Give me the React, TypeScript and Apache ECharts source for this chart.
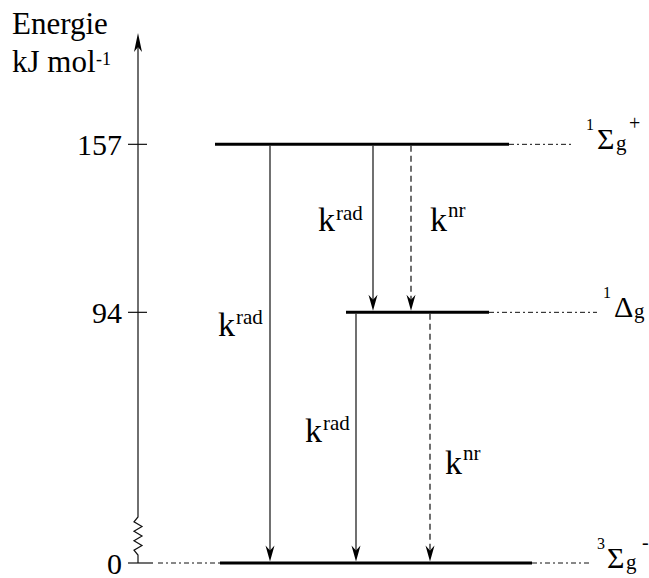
import React, { useEffect, useRef } from 'react';
import * as echarts from 'echarts';

// ---- data ----
const levelEnergies = [0, 94, 157];
const stateMult = ['3', '1', '1'];
const stateLetter = ['Σ', 'Δ', 'Σ'];
const stateSub = ['g', 'g', 'g'];
const stateSup = ['-', '', '+'];
const tickValues = [0, 94, 157];
const transFrom = [157, 157, 157, 94, 94];
const transTo = [0, 94, 94, 0, 0];
const transKind = ['rad', 'rad', 'nr', 'rad', 'nr'];
const axisTitle = ['Energie', 'kJ mol', '-1'];

// ---- layout (pixel units on hidden x axis) ----
const AXIS_X = 138;
const Y_MAX = 195;
const LEVEL_SPAN = [
  [220, 532, 590],
  [346, 489, 597],
  [215, 509, 574],
];
// [mult x, letter x, sub x, sup x]
const LEVEL_LABEL_X = [
  [597, 607, 626, 642],
  [603, 614, 634, 0],
  [586, 597, 616, 629],
];
const TRANS_X = [270, 373, 411, 356, 430];
// [k left x, fraction along arrow]
const TRANS_LABEL: [number, number][] = [
  [218, 0.43],
  [318, 0.45],
  [430, 0.45],
  [305, 0.47],
  [445, 0.6],
];

const FONT = "'Liberation Serif', 'Times New Roman', Times, 'DejaVu Serif', serif";
const INK = '#111';

function txt(x: number, y: number, text: string, fontSize: number, align = 'left') {
  return {
    type: 'text',
    x,
    y,
    style: { text, fontSize, fontFamily: FONT, fill: '#000', align, verticalAlign: 'middle' },
  };
}

function downArrow(x: number, tipY: number) {
  return {
    type: 'polygon',
    shape: { points: [[x, tipY], [x - 4.5, tipY - 16], [x, tipY - 11], [x + 4.5, tipY - 16]] },
    style: { fill: '#000' },
  };
}

const option: any = {
  animation: false,
  backgroundColor: '#fff',
  textStyle: { fontFamily: FONT },
  grid: { left: AXIS_X, right: 0, top: 43, bottom: 7 },
  xAxis: { type: 'value', min: AXIS_X, max: 649, show: false },
  yAxis: {
    type: 'value',
    min: 0,
    max: Y_MAX,
    axisLine: { show: false },
    axisTick: { show: false },
    splitLine: { show: false },
    axisLabel: {
      customValues: tickValues,
      fontSize: 30,
      fontFamily: FONT,
      color: '#000',
      margin: 16,
    },
  },
  graphic: [
    { type: 'text', left: 12, top: 8, style: { text: axisTitle[0], fontSize: 31, fontFamily: FONT, fill: '#000' } },
    { type: 'text', left: 12, top: 46, style: { text: axisTitle[1], fontSize: 31, fontFamily: FONT, fill: '#000' } },
    { type: 'text', left: 96, top: 50, style: { text: axisTitle[2], fontSize: 18, fontFamily: FONT, fill: '#000' } },
  ],
  series: [
    {
      type: 'custom',
      name: 'axis',
      data: [[AXIS_X, 0]],
      renderItem: (_p: any, api: any) => {
        const [x, y0] = api.coord([AXIS_X, 0]);
        const yTop = api.coord([AXIS_X, Y_MAX])[1];
        const pts: number[][] = [[x, y0], [x, y0 - 8]];
        for (let k = 1; k < 8; k++) pts.push([x + (k % 2 ? -4 : 4), y0 - 8 - k * 4.75]);
        pts.push([x, y0 - 46]);
        pts.push([x, yTop + 2]);
        const children: any[] = [
          { type: 'polyline', shape: { points: pts }, style: { stroke: INK, lineWidth: 1.2, fill: null } },
          {
            type: 'polygon',
            shape: { points: [[x, yTop - 10], [x - 4, yTop + 9], [x, yTop + 4], [x + 4, yTop + 9]] },
            style: { fill: '#000' },
          },
        ];
        tickValues.forEach((v) => {
          const ty = api.coord([AXIS_X, v])[1];
          children.push({ type: 'line', shape: { x1: x - 10, y1: ty, x2: x + 9, y2: ty }, style: { stroke: INK, lineWidth: 1.2 } });
        });
        return { type: 'group', children };
      },
    },
    {
      type: 'custom',
      name: 'levels',
      data: levelEnergies.map((e, i) => [LEVEL_SPAN[i][0], e, i]),
      renderItem: (p: any, api: any) => {
        const i = p.dataIndex;
        const e = levelEnergies[i];
        const [xs, y] = api.coord([LEVEL_SPAN[i][0], e]);
        const xe = api.coord([LEVEL_SPAN[i][1], e])[0];
        const xx = api.coord([LEVEL_SPAN[i][2], e])[0];
        const children: any[] = [
          { type: 'line', shape: { x1: xs, y1: y, x2: xe, y2: y }, style: { stroke: '#000', lineWidth: 3 } },
          { type: 'line', shape: { x1: xe, y1: y, x2: xx, y2: y }, style: { stroke: INK, lineWidth: 1, lineDash: [5, 3, 2, 3] } },
        ];
        if (e === 0) {
          const ax = api.coord([AXIS_X, 0])[0];
          children.push({ type: 'line', shape: { x1: ax + 9, y1: y, x2: ax + 15, y2: y }, style: { stroke: INK, lineWidth: 1.2 } });
          children.push({ type: 'line', shape: { x1: ax + 20, y1: y, x2: xs, y2: y }, style: { stroke: INK, lineWidth: 1, lineDash: [5, 3, 2, 3] } });
        }
        const lx = LEVEL_LABEL_X[i];
        children.push(txt(lx[0], y - 20, stateMult[i], 16));
        children.push(txt(lx[1], y - 6, stateLetter[i], 30));
        children.push(txt(lx[2], y - 1, stateSub[i], 21));
        if (stateSup[i]) children.push(txt(lx[3], y - 21, stateSup[i], 20));
        return { type: 'group', children };
      },
    },
    {
      type: 'custom',
      name: 'transitions',
      data: transFrom.map((f, i) => [TRANS_X[i], f, transTo[i], i]),
      renderItem: (p: any, api: any) => {
        const i = p.dataIndex;
        const [x, y1] = api.coord([TRANS_X[i], transFrom[i]]);
        const y2 = api.coord([TRANS_X[i], transTo[i]])[1];
        const dashed = transKind[i] === 'nr';
        const children: any[] = [
          {
            type: 'line',
            shape: { x1: x, y1: y1 + 1.5, x2: x, y2: y2 - 10 },
            style: { stroke: INK, lineWidth: 1.2, lineDash: dashed ? [6, 4] : null },
          },
          downArrow(x, y2 - 1.5),
        ];
        const [lxk, t] = TRANS_LABEL[i];
        const lx = api.coord([lxk, 0])[0];
        const ly = y1 + (y2 - y1) * t;
        children.push(txt(lx, ly, 'k', 34));
        children.push(txt(lx + 18, ly + (dashed ? -10 : -7), transKind[i], 21));
        return { type: 'group', children };
      },
    },
  ],
};

export default function App() {
  const ref = useRef<HTMLDivElement>(null);
  useEffect(() => {
    const chart = echarts.init(ref.current!, null, { renderer: 'svg' });
    chart.setOption(option);
    return () => chart.dispose();
  }, []);
  return (
    <div
      ref={ref}
      style={{ position: 'fixed', left: 0, top: 0, width: 649, height: 578, background: '#fff' }}
    />
  );
}
